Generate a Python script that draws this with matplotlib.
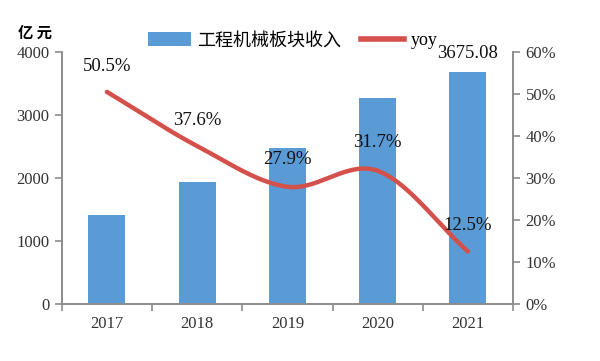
import numpy as np
import matplotlib
matplotlib.use('Agg')
import matplotlib.pyplot as plt
from matplotlib.lines import Line2D
from matplotlib.patches import Patch

plt.rcParams['font.family'] = ['Liberation Serif', 'Noto Sans CJK SC', 'DejaVu Sans']

years = ['2017', '2018', '2019', '2020', '2021']
revenue = [1409, 1939, 2480, 3267, 3675.08]
yoy = [50.5, 37.6, 27.9, 31.7, 12.5]
yoy_labels = ['50.5%', '37.6%', '27.9%', '31.7%', '12.5%']

bar_color = '#5B9BD5'
line_color = '#D4504A'
axis_color = '#8C8C8C'


def catmull_rom(x, y, n=40):
    # smooth curve through the points, like Excel's smoothed line
    x = np.asarray(x, float)
    y = np.asarray(y, float)
    px = np.concatenate([[2 * x[0] - x[1]], x, [2 * x[-1] - x[-2]]])
    py = np.concatenate([[2 * y[0] - y[1]], y, [2 * y[-1] - y[-2]]])
    xs, ys = [], []
    t = np.linspace(0, 1, n)
    for i in range(1, len(px) - 2):
        for p, out in ((px, xs), (py, ys)):
            p0, p1, p2, p3 = p[i - 1], p[i], p[i + 1], p[i + 2]
            out.extend(0.5 * (2 * p1 + (-p0 + p2) * t
                              + (2 * p0 - 5 * p1 + 4 * p2 - p3) * t ** 2
                              + (-p0 + 3 * p1 - 3 * p2 + p3) * t ** 3))
    return np.array(xs), np.array(ys)


fig = plt.figure(figsize=(6, 3.61), dpi=100)
ax = fig.add_axes([0.103, 0.158, 0.752, 0.698])
ax2 = ax.twinx()

x = np.arange(len(years))
ax.bar(x, revenue, width=0.41, color=bar_color, zorder=2)
ax.set_ylim(0, 4000)
ax.set_yticks([0, 1000, 2000, 3000, 4000])
ax.set_xlim(-0.5, len(years) - 0.5)
ax.set_xticks(np.arange(-0.5, len(years)), [''] * (len(years) + 1))
ax.set_xticks(x, years, minor=True)
ax.tick_params(axis='x', which='minor', length=0, pad=9, labelsize=12,
               labelcolor='#333333')
ax.tick_params(axis='x', which='major', length=5, color=axis_color, width=1.2)
ax.tick_params(axis='y', length=5, color=axis_color, width=1.2, pad=4,
               labelsize=12, labelcolor='#333333')

ax.text(len(years) - 1, revenue[-1] + 300, '3675.08', ha='center',
        va='center', fontsize=13.5, color='#111111')

sx, sy = catmull_rom(x, yoy)
ax2.plot(sx, sy, color=line_color, lw=3.2, solid_capstyle='round', zorder=3)
ax2.set_ylim(0, 60)
ax2.set_yticks([0, 10, 20, 30, 40, 50, 60],
               ['0%', '10%', '20%', '30%', '40%', '50%', '60%'])
ax2.tick_params(axis='y', length=5, color=axis_color, width=1.2,
                labelsize=12, labelcolor='#333333', pad=4)

label_dy = [6.0, 6.2, 6.4, 6.7, 6.2]
for xi, yi, lab, dy in zip(x, yoy, yoy_labels, label_dy):
    ax2.text(xi, yi + dy, lab, ha='center', va='center',
             fontsize=13.5, color='#111111', zorder=4)

for a in (ax, ax2):
    a.spines['top'].set_visible(False)
    for s in ('left', 'right', 'bottom'):
        a.spines[s].set_color(axis_color)
        a.spines[s].set_linewidth(1.2)

fig.text(0.03, 0.91, '亿 元', fontsize=11, fontweight='bold',
         family=['Noto Sans CJK SC'], va='center')

handles = [Patch(facecolor=bar_color, edgecolor='none'),
           Line2D([0], [0], color=line_color, lw=4)]
leg = fig.legend(handles, ['工程机械板块收入', 'yoy'], loc='center left',
                 bbox_to_anchor=(0.246, 0.888), ncol=2, frameon=False,
                 handlelength=2.4, handleheight=0.8, borderpad=0,
                 borderaxespad=0, columnspacing=1.1, handletextpad=0.35,
                 prop={'family': ['Noto Sans CJK SC', 'Liberation Serif'],
                       'size': 13})
leg.get_texts()[1].set_family(['Liberation Serif'])
leg.get_texts()[1].set_size(13)

fig.savefig('out.png', dpi=100)
